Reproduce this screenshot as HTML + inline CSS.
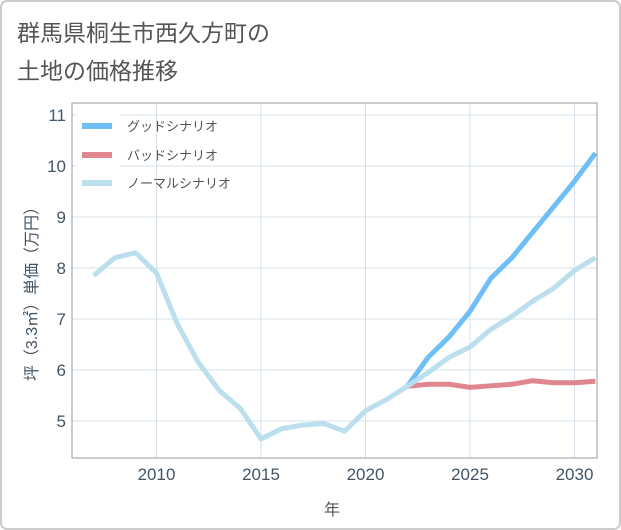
<!DOCTYPE html>
<html><head><meta charset="utf-8"><style>
body{margin:0;background:#fff}
svg{display:block;font-family:"Liberation Sans","Noto Sans CJK JP",sans-serif}
</style></head><body>
<svg width="621" height="530">
<rect x="1" y="1" width="619" height="528" rx="6" fill="#fff" stroke="#ccc" stroke-width="2"/>
<text x="17" y="41" font-size="23" fill="#555">群馬県桐生市西久方町の</text>
<text x="17" y="79" font-size="23" fill="#555">土地の価格推移</text>
<g id="grid"></g>
<g id="series"></g>
<g id="axes"></g>
<g>
<rect x="76" y="108" width="44" height="92" fill="#fff"/>
<line x1="82" y1="126" x2="112" y2="126" stroke="#6ebff5" stroke-width="6"/>
<text x="127" y="131" font-size="13" fill="#555">グッドシナリオ</text>
<line x1="82" y1="155" x2="112" y2="155" stroke="#e0868e" stroke-width="6"/>
<text x="127" y="160" font-size="13" fill="#555">バッドシナリオ</text>
<line x1="82" y1="183" x2="112" y2="183" stroke="#bcdfee" stroke-width="6"/>
<text x="127" y="188" font-size="13" fill="#555">ノーマルシナリオ</text>
</g>
<text x="332" y="515" font-size="16" fill="#555" text-anchor="middle">年</text>
<text transform="translate(37,290) rotate(-90)" font-size="16" fill="#456" text-anchor="middle">坪（3.3㎡）単価（万円）</text>
</svg>
<script>
const years=[2007,2008,2009,2010,2011,2012,2013,2014,2015,2016,2017,2018,2019,2020,2021,2022,2023,2024,2025,2026,2027,2028,2029,2030,2031];
const normal=[7.85,8.2,8.3,7.9,6.9,6.15,5.6,5.25,4.65,4.85,4.92,4.95,4.8,5.2,5.42,5.68,5.95,6.25,6.45,6.8,7.05,7.35,7.6,7.95,8.2];
const goodYears=[2022,2023,2024,2025,2026,2027,2028,2029,2030,2031];
const good=[5.68,6.25,6.65,7.15,7.8,8.2,8.7,9.2,9.7,10.25];
const badYears=[2022,2023,2024,2025,2026,2027,2028,2029,2030,2031];
const bad=[5.68,5.72,5.72,5.66,5.69,5.72,5.79,5.75,5.75,5.78];
const xTicks=[2010,2015,2020,2025,2030];
const yTicks=[5,6,7,8,9,10,11];
const L=72,R=597,T=103,B=458;
const xs=y=>156.5+(y-2010)*20.9;
const ys=v=>421-(v-5)*51;
const NS='http://www.w3.org/2000/svg';
function mk(p,t,a){const e=document.createElementNS(NS,t);for(const k in a)e.setAttribute(k,a[k]);p.appendChild(e);return e;}
const grid=document.getElementById('grid'),axes=document.getElementById('axes'),ser=document.getElementById('series');
xTicks.forEach(t=>{
 const l=mk(grid,'line',{x1:xs(t),x2:xs(t),y1:T,y2:B,stroke:'#d5e0ea','stroke-width':1});
 
 
 const tx=mk(axes,'text',{x:xs(t),y:480,'font-size':17,fill:'#456','text-anchor':'middle'});tx.textContent=t;
 
 
});
yTicks.forEach(t=>{
 const l=mk(grid,'line',{x1:L,x2:R,y1:ys(t),y2:ys(t),stroke:'#d5e0ea','stroke-width':1});
 
 
 const tx=mk(axes,'text',{x:66,y:ys(t)+6,'font-size':17,fill:'#456','text-anchor':'end'});tx.textContent=t;
 
 
});
const fr=mk(axes,'path',{d:`M${L},${T}V${B}H${R}V${T}Z`,fill:'none',stroke:'#999','stroke-width':1});


function line(xv,yv,c,n){
 const d=xv.map((x,i)=>(i?'L':'M')+xs(x)+','+ys(yv[i])).join('');
 const p=mk(ser,'path',{d,fill:'none',stroke:c,'stroke-width':5,'stroke-linejoin':'round'});
 
 
}
line(goodYears,good,'#6ebff5','good-scenario-line');
line(badYears,bad,'#e0868e','bad-scenario-line');
line(years,normal,'#bcdfee','normal-scenario-line');
</script>
</body></html>
